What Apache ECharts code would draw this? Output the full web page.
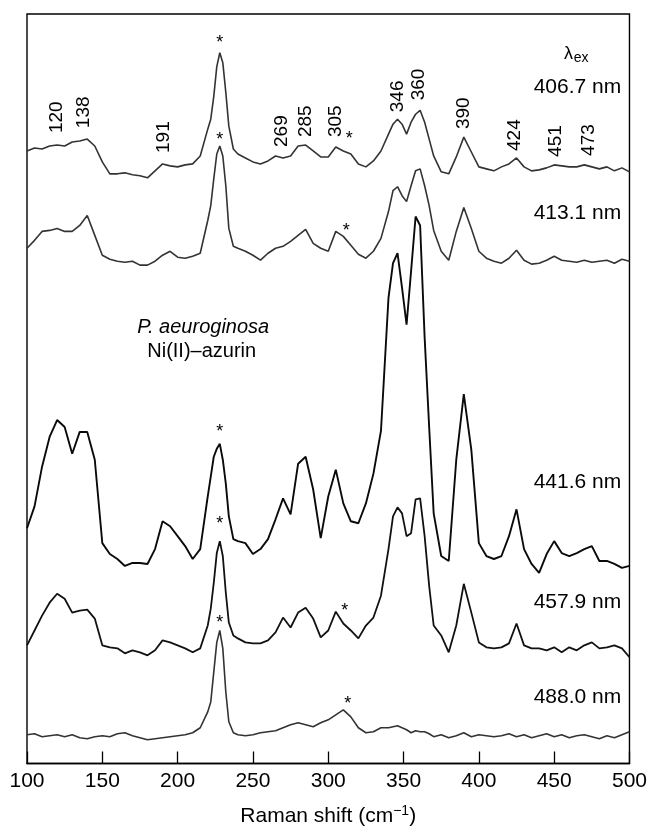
<!DOCTYPE html>
<html><head><meta charset="utf-8">
<script src="https://cdn.jsdelivr.net/npm/echarts@6/dist/echarts.min.js"></script>
<style>html,body{margin:0;padding:0;background:#fff}#c{width:650px;height:832px}</style>
</head><body><div id="c"></div>
<script>
// Raman shift grid (cm-1)
const shift = [100,105,110,115,120,125,130,135,140,145,150,155,160,165,170,175,180,185,190,195,200,205,210,215,
  220,222,224,226,228,230,232,234,237,240,
  245,250,255,260,265,270,275,280,285,290,295,300,305,310,315,320,325,330,335,
  340,343,346,349,352,355,358,361,364,367,370,
  375,380,385,390,395,400,405,410,415,420,425,430,435,440,445,450,455,460,465,470,475,480,485,490,495,500];

// Stacked intensities (arbitrary units, offsets included)
const s4067 = [617,620,619,622,623,622,626,627,629,622,606,594,594,595,593,592,590,597,604,602,601,603,604,612,
  639,649,672,702,716,706,676,642,619,614,
  610,606,604,607,612,610,612,622,623,617,611,611,621,617,614,604,601,607,617,
  634,644,649,644,634,646,654,658,646,629,612,
  596,594,611,631,616,601,599,597,601,604,610,601,597,598,600,603,602,601,601,603,601,599,601,597,600,596];
const s4131 = [519,527,536,537,539,536,536,542,552,532,512,508,506,505,506,502,502,506,512,516,510,509,511,514,
  547,562,589,614,622,612,582,539,521,519,
  516,512,507,514,519,521,526,532,538,524,519,516,536,531,522,513,509,516,529,
  556,577,581,572,566,582,597,599,582,562,537,
  516,507,536,560,539,516,509,506,504,509,517,507,503,504,507,511,507,506,505,507,505,506,507,504,508,506];
const s4416 = [237,259,299,329,346,339,312,334,334,306,222,211,206,199,202,202,201,216,244,239,229,219,206,216,
  269,289,309,317,322,306,282,249,226,224,
  222,211,216,226,246,267,251,302,309,276,227,269,296,262,244,242,262,292,335,
  469,504,514,479,442,496,551,542,429,339,252,
  209,204,306,372,316,222,209,206,209,229,256,216,201,192,211,224,212,209,212,216,219,204,204,201,197,199];
const s4579 = [119,134,149,162,171,166,152,154,155,146,119,117,116,111,114,112,109,114,124,122,119,116,112,116,
  139,156,182,212,224,209,172,142,129,126,
  122,121,121,124,132,147,137,152,157,146,127,134,153,141,134,126,139,147,169,
  216,249,258,252,229,232,266,267,229,179,139,
  129,112,139,181,152,122,117,116,117,121,141,119,116,116,114,117,112,117,114,119,122,116,117,119,116,107];
const s4880 = [29,30,27,28,29,27,29,26,25,27,28,27,30,31,28,26,24,25,26,27,28,29,31,36,
  52,62,92,122,134,116,72,42,31,29,
  28,29,31,32,33,36,39,41,39,37,41,44,49,54,47,36,31,32,36,
  36,37,38,36,34,31,33,32,32,30,27,
  29,26,28,31,27,29,28,27,28,30,27,29,26,28,30,27,29,26,28,29,27,25,28,26,29,32];

// Peak assignments (cm-1) and their label heights
const peakLabels = [120,138,191,269,285,305,346,360,390,424,451,473];
const peakLabelPos = [651,656,631,637,647,647,672,684,655,633,627,628];

// Asterisks (solvent / artefact bands)
const starShift = [228,228,314,312,228,228,311,228,313];
const starPos = [726,628,629,536,334,241,154,141,60];

// Excitation wavelength labels
const laserLabels = ['406.7 nm','413.1 nm','441.6 nm','457.9 nm','488.0 nm'];
const laserLabelPos = [681,554,283,162,67];
const laserLabelShift = 494.5;

const FONT = '"Liberation Sans", Arial, Helvetica, sans-serif';
const pair = arr => shift.map((x, i) => [x, arr[i]]);

const spectra = [
  {name: '406.7', data: s4067, color: '#333', w: 1.6},
  {name: '413.1', data: s4131, color: '#333', w: 1.6},
  {name: '441.6', data: s4416, color: '#0a0a0a', w: 1.9},
  {name: '457.9', data: s4579, color: '#111', w: 1.8},
  {name: '488.0', data: s4880, color: '#333', w: 1.6}
];

const chart = echarts.init(document.getElementById('c'), null, {renderer: 'canvas'});
chart.setOption({
  animation: false,
  backgroundColor: '#fff',
  grid: {left: 27, right: 16, top: 14, bottom: 63, show: true, borderColor: '#000', borderWidth: 1.4, backgroundColor: 'transparent'},
  xAxis: {
    type: 'value', min: 100, max: 500, interval: 50,
    axisLine: {show: true, lineStyle: {color: '#000', width: 1.4}},
    axisTick: {show: true, inside: true, length: 12, lineStyle: {color: '#000', width: 1.3}},
    splitLine: {show: false},
    axisLabel: {fontSize: 21, color: '#000', margin: 7, fontFamily: FONT},
    name: 'Raman shift (cm{sup|−1})', nameLocation: 'middle', nameGap: 41,
    nameTextStyle: {fontSize: 21, color: '#000', fontFamily: FONT,
      rich: {sup: {fontSize: 14, color: '#000', fontFamily: FONT, verticalAlign: 'top', padding: [0, 0, 10, 0]}}}
  },
  yAxis: {type: 'value', min: 0, max: 755, show: false},
  series: spectra.map(s => ({
    type: 'line', name: s.name, data: pair(s.data), showSymbol: false, symbol: 'none',
    lineStyle: {color: s.color, width: s.w}, silent: true
  }))
});

// Annotations placed through the chart's own coordinate system
const px = (x, y) => chart.convertToPixel({gridIndex: 0}, [x, y]);
function txt(x, y, text, extra, rot) {
  const p = px(x, y);
  return {
    type: 'text', x: p[0], y: p[1], rotation: rot || 0, silent: true, z: 100,
    style: Object.assign({text: text, fill: '#000', font: '20px ' + FONT,
      textAlign: 'center', textVerticalAlign: 'middle'}, extra)
  };
}
const g = [];
peakLabels.forEach((p, i) => g.push(txt(p, peakLabelPos[i], String(p), {font: '19px ' + FONT}, Math.PI / 2)));
starShift.forEach((p, i) => g.push(txt(p, starPos[i], '*', {font: '18px ' + FONT})));
laserLabels.forEach((t, i) => g.push(txt(laserLabelShift, laserLabelPos[i], t, {font: '21px ' + FONT, textAlign: 'right'})));
g.push(txt(462.5, 715, 'λ', {font: '18px ' + FONT, textAlign: 'right'}));
g.push(txt(463, 711, 'ex', {font: '14px ' + FONT, textAlign: 'left'}));
g.push(txt(217, 439, 'P. aeuroginosa', {font: 'italic 20px ' + FONT}));
g.push(txt(216, 415, 'Ni(II)–azurin', {font: '20px ' + FONT}));
chart.setOption({graphic: g});
</script></body></html>
